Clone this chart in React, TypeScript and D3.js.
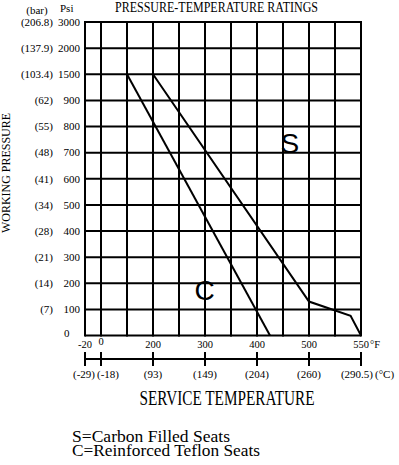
import { useEffect, useRef } from "react";
import * as d3 from "d3";

const width = 399;
const height = 465;

// psi grid rows (non-uniform: every row is the same height)
const psiTicks = [0, 100, 200, 300, 400, 500, 600, 700, 800, 900, 1500, 2000, 3000];
const barLabels = ["", "(7)", "(14)", "(21)", "(28)", "(34)", "(41)", "(48)", "(55)", "(62)", "(103.4)", "(137.9)", "(206.8)"];

// temperature (°F)
const gridTemps = [-20, 0, 100, 200, 250, 300, 350, 400, 450, 500, 525, 550];
const tempStops = [-20, 0, 200, 500, 550];
const fTicks = [-20, 0, 200, 300, 400, 500, 550];
const cLabels = ["(-29)", "(-18)", "(93)", "(149)", "(204)", "(260)", "(290.5)"];

type Pt = { temp: number; psi: number };
const carbonSeats: Pt[] = [
  { temp: 200, psi: 1500 },
  { temp: 500, psi: 130 },
  { temp: 540, psi: 75 },
  { temp: 550, psi: 0 },
];
const teflonSeats: Pt[] = [
  { temp: 100, psi: 1500 },
  { temp: 425, psi: 0 },
];

const legendLines = ["S=Carbon Filled Seats", "C=Reinforced Teflon Seats"];
const legendWidths = [158, 188];

const left = 85;
const top = 22;
const rowH = 26.125;
const colW = 26;
const firstCol = 16;
const bottom = top + (psiTicks.length - 1) * rowH;
const serif = "'Liberation Serif', 'Times New Roman', serif";

const App = () => {
  const svgRef = useRef<SVGSVGElement>(null);

  useEffect(() => {
    const x0 = left + firstCol;
    const xScale = d3
      .scaleLinear()
      .domain(tempStops)
      .range([left, x0, x0 + 2 * colW, x0 + 8 * colW, x0 + 10 * colW]);
    const yScale = d3
      .scaleLinear()
      .domain(psiTicks)
      .range(psiTicks.map((_, i) => bottom - i * rowH));
    const right = xScale(550);

    const svg = d3.select(svgRef.current);
    svg.selectAll("*").remove();

    // grid
    const grid = svg.append("g").attr("stroke", "#000").attr("stroke-width", 2);
    grid
      .selectAll("line.h")
      .data(psiTicks)
      .join("line")
      .attr("class", "h")
      .attr("x1", left)
      .attr("x2", right)
      .attr("y1", (d) => yScale(d))
      .attr("y2", (d) => yScale(d));
    grid
      .selectAll("line.v")
      .data(gridTemps)
      .join("line")
      .attr("class", "v")
      .attr("x1", (d) => xScale(d))
      .attr("x2", (d) => xScale(d))
      .attr("y1", top - 1)
      .attr("y2", bottom + 1);

    // rating lines
    const line = d3
      .line<Pt>()
      .x((d) => xScale(d.temp))
      .y((d) => yScale(d.psi));
    [carbonSeats, teflonSeats].forEach((s) => {
      svg
        .append("path")
        .datum(s)
        .attr("fill", "none")
        .attr("stroke", "#000")
        .attr("stroke-width", 2)
        .attr("d", line);
    });

    // S / C marks
    svg
      .append("text")
      .attr("x", xScale(445))
      .attr("y", yScale(700))
      .attr("font-family", "'Liberation Sans', Arial, sans-serif")
      .attr("font-size", 28)
      .text("S");
    svg
      .append("text")
      .attr("x", xScale(280))
      .attr("y", yScale(135))
      .attr("font-family", "'Liberation Sans', Arial, sans-serif")
      .attr("font-size", 28)
      .text("C");

    const txt = svg.append("g").attr("font-family", serif).attr("fill", "#000");

    // y labels
    txt
      .selectAll("text.psi")
      .data(psiTicks)
      .join("text")
      .attr("class", "psi")
      .attr("x", (d) => (d === 0 ? 64 : 80))
      .attr("y", (d) => yScale(d) - (d === 0 ? 2 : 0))
      .attr("dy", "0.35em")
      .attr("text-anchor", (d) => (d === 0 ? "start" : "end"))
      .attr("font-size", 11)
      .text((d) => d);
    txt
      .selectAll("text.bar")
      .data(barLabels)
      .join("text")
      .attr("class", "bar")
      .attr("x", 53)
      .attr("y", (_, i) => yScale(psiTicks[i]))
      .attr("dy", "0.35em")
      .attr("text-anchor", "end")
      .attr("font-size", 11)
      .text((d) => d);
    txt.append("text").attr("x", 37).attr("y", 14).attr("text-anchor", "middle").attr("font-size", 11).text("(bar)");
    txt.append("text").attr("x", 60).attr("y", 12).attr("font-size", 11).text("Psi");

    // title
    txt
      .append("text")
      .attr("x", 216.5)
      .attr("y", 12)
      .attr("text-anchor", "middle")
      .attr("font-size", 14)
      .attr("textLength", 203)
      .attr("lengthAdjust", "spacingAndGlyphs")
      .text("PRESSURE-TEMPERATURE RATINGS");

    // working pressure
    txt
      .append("text")
      .attr("transform", `translate(9.5,${(113 + 233) / 2}) rotate(-90)`)
      .attr("text-anchor", "middle")
      .attr("font-size", 12)
      .attr("textLength", 120)
      .attr("lengthAdjust", "spacingAndGlyphs")
      .text("WORKING PRESSURE");

    // °F labels
    txt
      .selectAll("text.f")
      .data(fTicks)
      .join("text")
      .attr("class", "f")
      .attr("x", (d) => xScale(d))
      .attr("y", (d) => (d === 0 ? 345 : 348))
      .attr("text-anchor", "middle")
      .attr("font-size", 10.5)
      .text((d) => d);
    txt.append("text").attr("x", right + 9).attr("y", 348).attr("font-size", 10.5).text("°F");

    // °C axis
    const cy = 359;
    const cAxis = svg.append("g").attr("stroke", "#000").attr("stroke-width", 2);
    cAxis.append("line").attr("x1", left).attr("x2", right).attr("y1", cy).attr("y2", cy);
    cAxis
      .selectAll("line.t")
      .data(fTicks)
      .join("line")
      .attr("class", "t")
      .attr("x1", (d) => xScale(d))
      .attr("x2", (d) => xScale(d))
      .attr("y1", cy - 7)
      .attr("y2", cy + 7);
    txt
      .selectAll("text.c")
      .data(cLabels)
      .join("text")
      .attr("class", "c")
      .attr("x", (_, i) => {
        const px = xScale(fTicks[i]);
        if (i === 0) return px + 10;
        if (i === 1) return px - 4;
        if (i === cLabels.length - 1) return px + 12;
        return px;
      })
      .attr("y", 378)
      .attr("text-anchor", (_, i) =>
        i === 0 || i === cLabels.length - 1 ? "end" : i === 1 ? "start" : "middle"
      )
      .attr("font-size", 11)
      .text((d) => d);
    txt.append("text").attr("x", right + 14).attr("y", 378).attr("font-size", 11).text("(°C)");

    txt
      .append("text")
      .attr("x", 227)
      .attr("y", 405)
      .attr("text-anchor", "middle")
      .attr("font-size", 20)
      .attr("textLength", 175)
      .attr("lengthAdjust", "spacingAndGlyphs")
      .text("SERVICE TEMPERATURE");

    // legend
    txt
      .selectAll("text.leg")
      .data(legendLines)
      .join("text")
      .attr("class", "leg")
      .attr("x", 72)
      .attr("y", (_, i) => 441.5 + i * 14.5)
      .attr("font-size", 17)
      .attr("textLength", (_, i) => legendWidths[i])
      .attr("lengthAdjust", "spacingAndGlyphs")
      .text((d) => d);
  }, []);

  return (
    <svg
      ref={svgRef}
      width={width}
      height={height}
      viewBox={`0 0 ${width} ${height}`}
      style={{ position: "absolute", left: 0, top: 0, background: "#fff" }}
    ></svg>
  );
};

export default App;
